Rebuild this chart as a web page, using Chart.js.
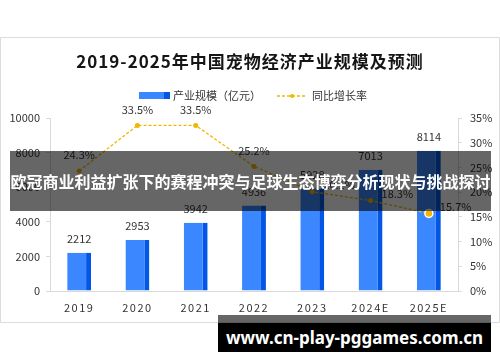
<!DOCTYPE html>
<html>
<head>
<meta charset="utf-8">
<script src="https://cdn.jsdelivr.net/npm/chart.js@4.4.1/dist/chart.umd.min.js"></script>
<style>
    body { margin: 0; background: #fff; font-family: "Noto Sans CJK SC", sans-serif; }
    #wrap { position: relative; width: 500px; height: 362px; overflow: hidden; }
    #frame { position: absolute; left: 0; top: 37px; width: 498px; height: 284px; border: 1px solid #dcdcdc; }
    canvas { position: absolute; left: 0; top: 0; }
    #banner {
        position: absolute; left: 10px; top: 151px; width: 481px; height: 60px;
        background: rgba(0, 0, 0, 0.6); color: #fff; font-weight: bold; font-size: 16px;
        line-height: 60px; text-align: center; white-space: nowrap;
    }
    #siteTop { position: absolute; left: 218px; top: 315px; width: 273px; height: 8px; background: rgba(0, 0, 0, 0.6); }
    #site {
        position: absolute; left: 218px; top: 323px; width: 273px; height: 29px; background: #000;
        color: #fff; font: bold 17px "Noto Sans", sans-serif; line-height: 29px; text-align: center;
    }
</style>
</head>
<body>
<div id="wrap">
    <div id="frame"></div>
    <canvas id="chart" width="500" height="362"></canvas>
    <div id="banner">欧冠商业利益扩张下的赛程冲突与足球生态博弈分析现状与挑战探讨</div>
    <div id="siteTop"></div>
    <div id="site">www.cn-play-pggames.com.cn</div>
</div>
<script>
const chartTitle = "2019-2025年中国宠物经济产业规模及预测";
const years = ["2019", "2020", "2021", "2022", "2023", "2024E", "2025E"];
const marketSize = [2212, 2953, 3942, 4936, 5928, 7013, 8114];
const growthRate = [24.3, 33.5, 33.5, 25.2, 20.1, 18.3, 15.7];
const sizeTicks = [0, 2000, 4000, 6000, 8000, 10000];
const rateTicks = [0, 5, 10, 15, 20, 25, 30, 35];

const barColor = "#3a87ff";
const barEdge = "#0457e6";
const lineColor = "#f2b600";
const axisColor = "#d9d9d9";
const textColor = "#333";
const font = '"Noto Sans CJK SC", sans-serif';

Chart.defaults.font.family = font;
Chart.defaults.color = textColor;

// title, legend and value labels
const decorPlugin = {
    id: "decor",
    afterLayout(chart) {
        // spaced x labels
        const xs = chart.scales.x;
        if (!xs._spaced) {
            const drawLabels = xs.drawLabels;
            xs.drawLabels = function (area) {
                this.ctx.save();
                this.ctx.letterSpacing = "1.5px";
                drawLabels.call(this, area);
                this.ctx.restore();
            };
            xs._spaced = true;
        }
    },
    afterDraw(chart) {
        const ctx = chart.ctx;
        ctx.save();

        // title
        ctx.fillStyle = "#151515";
        ctx.font = "bold 17px " + font;
        ctx.letterSpacing = "1px";
        ctx.textAlign = "center";
        ctx.textBaseline = "middle";
        ctx.fillText(chartTitle, 250, 62);
        ctx.letterSpacing = "0px";

        // legend
        ctx.font = "11px " + font;
        ctx.textAlign = "left";
        ctx.fillStyle = textColor;
        let x = 139;
        const ly = 96;
        ctx.fillStyle = barColor;
        ctx.fillRect(x, ly - 4, 31, 7);
        ctx.fillStyle = barEdge;
        ctx.fillRect(x + 25, ly - 4, 6, 7);
        ctx.fillStyle = textColor;
        ctx.fillText(chart.data.datasets[0].label, x + 34, ly);
        x += 34 + ctx.measureText(chart.data.datasets[0].label).width + 16;
        ctx.strokeStyle = lineColor;
        ctx.lineWidth = 1.3;
        ctx.setLineDash([3, 2]);
        ctx.beginPath();
        ctx.moveTo(x, ly);
        ctx.lineTo(x + 30, ly);
        ctx.stroke();
        ctx.setLineDash([]);
        ctx.fillStyle = lineColor;
        ctx.beginPath();
        ctx.arc(x + 15, ly, 2, 0, Math.PI * 2);
        ctx.fill();
        ctx.fillStyle = textColor;
        ctx.fillText(chart.data.datasets[1].label, x + 35, ly);

        // bar values
        ctx.textAlign = "center";
        chart.getDatasetMeta(0).data.forEach((bar, i) => {
            ctx.fillText(String(marketSize[i]), bar.x, bar.y - 14);
        });

        // growth labels
        chart.getDatasetMeta(1).data.forEach((pt, i) => {
            const txt = growthRate[i].toFixed(1) + "%";
            if (i < 4) {
                ctx.textAlign = "center";
                ctx.fillText(txt, pt.x, pt.y - 16);
            } else {
                ctx.strokeStyle = "#888";
                ctx.lineWidth = 0.8;
                ctx.beginPath();
                ctx.moveTo(pt.x + 2, pt.y - 2);
                ctx.lineTo(pt.x + 8, pt.y - 7);
                ctx.stroke();
                ctx.textAlign = "left";
                ctx.fillText(txt, pt.x + 11, pt.y - 7);
            }
        });

        ctx.restore();
    }
};

const config = {
    data: {
        labels: years,
        datasets: [
            {
                type: "bar",
                label: "产业规模（亿元）",
                data: marketSize,
                yAxisID: "y",
                backgroundColor: barColor,
                borderColor: barEdge,
                borderWidth: { top: 0, right: 5, bottom: 0, left: 0 },
                barPercentage: 0.41,
                categoryPercentage: 1,
                order: 2,
            },
            {
                type: "line",
                label: "同比增长率",
                data: growthRate,
                yAxisID: "y1",
                borderColor: lineColor,
                borderWidth: 1.3,
                borderDash: [3, 2],
                tension: 0,
                pointBackgroundColor: lineColor,
                pointBorderColor: (c) => (c.dataIndex === growthRate.length - 1 ? "#fff" : lineColor),
                pointBorderWidth: (c) => (c.dataIndex === growthRate.length - 1 ? 1.5 : 0),
                pointRadius: (c) => (c.dataIndex === growthRate.length - 1 ? 4 : 2.5),
                order: 1,
            },
        ],
    },
    options: {
        responsive: false,
        animation: false,
        events: [],
        layout: { padding: { top: 118, bottom: 40, left: 0, right: 0 } },
        plugins: {
            legend: { display: false },
            title: { display: false },
            tooltip: { enabled: false },
        },
        scales: {
            x: {
                grid: { display: false, drawTicks: false },
                border: { color: axisColor },
                ticks: { font: { size: 11 }, color: textColor, padding: 10 },
                afterFit: (s) => { s.height = 31; },
            },
            y: {
                position: "left",
                min: 0,
                max: 10000,
                afterBuildTicks: (s) => { s.ticks = sizeTicks.map((v) => ({ value: v })); },
                ticks: { font: { size: 11 }, color: textColor, padding: 6, callback: (v) => String(v) },
                grid: { drawOnChartArea: false, tickLength: 4, color: axisColor },
                border: { color: axisColor },
                afterFit: (s) => { s.width = 50; },
            },
            y1: {
                position: "right",
                min: 0,
                max: 35,
                afterBuildTicks: (s) => { s.ticks = rateTicks.map((v) => ({ value: v })); },
                ticks: { font: { size: 11 }, color: textColor, padding: 8, callback: (v) => v + "%" },
                grid: { drawOnChartArea: false, tickLength: 4, color: axisColor },
                border: { color: axisColor },
                afterFit: (s) => { s.width = 42; },
            },
        },
    },
    plugins: [decorPlugin],
};

new Chart(document.getElementById("chart"), config);
</script>
</body>
</html>
